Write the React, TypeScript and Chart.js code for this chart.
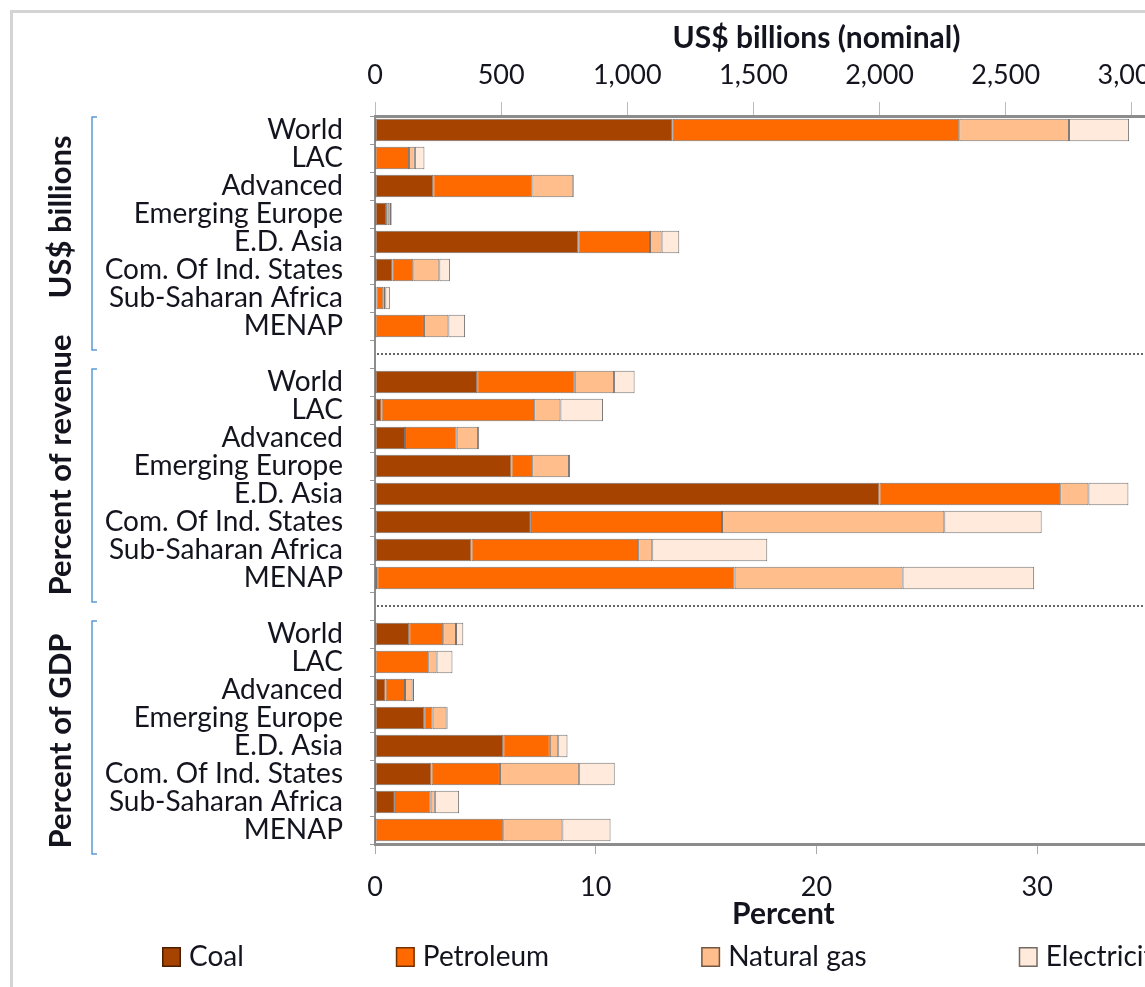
import React, { useEffect, useRef } from 'react';
import { Chart, registerables } from 'chart.js';

Chart.register(...registerables);

// ---------- data ----------
const regions = [
  'World',
  'LAC',
  'Advanced',
  'Emerging Europe',
  'E.D. Asia',
  'Com. Of Ind. States',
  'Sub-Saharan Africa',
  'MENAP',
];
const groupTitles = ['US$ billions', 'Percent of revenue', 'Percent of GDP'];
const fuelNames = ['Coal', 'Petroleum', 'Natural gas', 'Electricity'];
const fuelColors = ['#A64300', '#FF6A00', '#FFBE8C', '#FFEADB'];

// US$ billions (nominal) – top axis
const coalUSD = [1180, 0, 231, 44, 806, 70, 6, 0];
const petroleumUSD = [1136, 135, 393, 5, 284, 82, 27, 194];
const gasUSD = [435, 23, 162, 9, 46, 103, 8, 97];
const electricityUSD = [238, 38, 3, 8, 70, 42, 18, 66];

// Percent of revenue – bottom axis
const coalRevenue = [4.63, 0.3, 1.36, 6.18, 22.85, 7.06, 4.37, 0.1];
const petroleumRevenue = [4.42, 6.91, 2.34, 0.94, 8.19, 8.66, 7.55, 16.19];
const gasRevenue = [1.78, 1.19, 0.97, 1.67, 1.28, 10.07, 0.64, 7.61];
const electricityRevenue = [0.93, 1.93, 0.05, 0.05, 1.81, 4.41, 5.21, 5.96];

// Percent of GDP – bottom axis
const coalGDP = [1.55, 0, 0.48, 2.23, 5.81, 2.56, 0.9, 0];
const petroleumGDP = [1.54, 2.41, 0.88, 0.38, 2.11, 3.1, 1.62, 5.81];
const gasGDP = [0.58, 0.38, 0.34, 0.63, 0.38, 3.59, 0.19, 2.68];
const electricityGDP = [0.33, 0.72, 0.07, 0.05, 0.42, 1.61, 1.1, 2.18];

const usdAxisMax = 3500;
const usdAxisStep = 500;
const percentAxisMax = 40;
const percentAxisStep = 10;
const topAxisTitle = 'US$ billions (nominal)';
const bottomAxisTitle = 'Percent';

// ---------- helpers ----------
const FONT = 'Lato, "Open Sans", sans-serif';
const TEXT = '#14141f';

const usdSeries = [coalUSD, petroleumUSD, gasUSD, electricityUSD];
const revenueSeries = [coalRevenue, petroleumRevenue, gasRevenue, electricityRevenue];
const gdpSeries = [coalGDP, petroleumGDP, gasGDP, electricityGDP];

const n = regions.length;
const blanks = (k: number) => Array(k).fill(null);
const categoryLabels = [...regions, '', ...regions, '', ...regions];
const groupStarts = [0, n + 1, 2 * n + 2];
const groupLabelShift = [-11, -15, 9];

const decorPlugin = {
  id: 'decor',
  afterDatasetsDraw(chart: any) {
    const { ctx, chartArea, scales } = chart;
    const y = scales.y;
    ctx.save();
    ctx.strokeStyle = '#666';
    ctx.lineWidth = 2;
    ctx.setLineDash([2, 2]);
    [n, 2 * n + 1].forEach((idx) => {
      const py = Math.round(y.getPixelForValue(idx));
      ctx.beginPath();
      ctx.moveTo(chartArea.left + 2, py);
      ctx.lineTo(chartArea.right, py);
      ctx.stroke();
    });
    ctx.restore();
  },
  afterDraw(chart: any) {
    const { ctx, scales } = chart;
    const y = scales.y;
    const x = scales.x;
    ctx.save();
    // brackets + group titles
    groupStarts.forEach((start, g) => {
      const top = y.getPixelForValue(start) - 13;
      const bottom = y.getPixelForValue(start + n - 1) + 24;
      ctx.strokeStyle = '#5B9BD5';
      ctx.lineWidth = 1.5;
      ctx.setLineDash([]);
      ctx.beginPath();
      ctx.moveTo(97, top);
      ctx.lineTo(92, top);
      ctx.lineTo(92, bottom);
      ctx.lineTo(97, bottom);
      ctx.stroke();

      const cy = (y.getPixelForValue(start) + y.getPixelForValue(start + n - 1)) / 2 + groupLabelShift[g];
      ctx.save();
      ctx.translate(61, cy);
      ctx.rotate(-Math.PI / 2);
      ctx.font = `bold 31px ${FONT}`;
      ctx.fillStyle = TEXT;
      ctx.textAlign = 'center';
      ctx.textBaseline = 'middle';
      ctx.fillText(groupTitles[g], 0, 0);
      ctx.restore();
    });

    // bottom axis title
    ctx.font = `bold 30px ${FONT}`;
    ctx.fillStyle = TEXT;
    ctx.textAlign = 'center';
    ctx.textBaseline = 'middle';
    ctx.fillText(bottomAxisTitle, x.getPixelForValue(18.5), 914);

    // legend
    ctx.font = `28px ${FONT}`;
    ctx.textAlign = 'left';
    let lx = 162;
    const ly = 957;
    fuelNames.forEach((name, i) => {
      ctx.fillStyle = fuelColors[i];
      ctx.fillRect(lx, ly - 10, 19, 20);
      ctx.strokeStyle = 'rgba(0,0,0,0.55)';
      ctx.lineWidth = 1.5;
      ctx.strokeRect(lx + 0.75, ly - 9.25, 17.5, 18.5);
      ctx.fillStyle = TEXT;
      ctx.fillText(name, lx + 27, ly);
      lx += 27 + ctx.measureText(name).width + 152;
    });
    ctx.restore();
  },
};

export default function App() {
  const canvasRef = useRef<HTMLCanvasElement | null>(null);

  useEffect(() => {
    const canvas = canvasRef.current;
    if (!canvas) return;

    const barStyle = (i: number) => ({
      backgroundColor: fuelColors[i],
      borderColor: 'rgba(0,0,0,0.55)',
      borderWidth: 1,
      borderSkipped: false,
      barPercentage: 0.8,
      categoryPercentage: 1,
    });

    const datasets: any[] = [];
    fuelNames.forEach((name, i) => {
      datasets.push({
        label: name,
        data: [...blanks(n + 1), ...revenueSeries[i], null, ...gdpSeries[i]],
        xAxisID: 'x',
        yAxisID: 'y',
        ...barStyle(i),
      });
    });
    fuelNames.forEach((name, i) => {
      datasets.push({
        label: name + ' (US$)',
        data: [...usdSeries[i], ...blanks(2 * n + 2)],
        xAxisID: 'x2',
        yAxisID: 'y',
        ...barStyle(i),
      });
    });

    const chart = new Chart(canvas, {
      type: 'bar',
      data: { labels: categoryLabels, datasets },
      options: {
        indexAxis: 'y',
        responsive: false,
        animation: false,
        layout: { padding: { left: 0, right: 42, top: 0, bottom: 55 } },
        plugins: {
          legend: { display: false },
          tooltip: { enabled: false },
          title: { display: false },
        },
        scales: {
          y: {
            type: 'category',
            stacked: true,
            offset: true,
            ticks: {
              autoSkip: false,
              font: { family: FONT, size: 28 },
              color: TEXT,
              padding: 27,
            },
            grid: {
              drawOnChartArea: false,
              drawTicks: true,
              tickLength: 5,
              color: '#999',
              offset: true,
            },
            border: { color: '#8c8c8c', width: 2 },
            afterFit: (s: any) => {
              s.width = 375;
              s.paddingTop = 0;
              s.paddingBottom = 0;
            },
          },
          x: {
            position: 'bottom',
            stacked: true,
            min: 0,
            max: percentAxisMax,
            ticks: {
              stepSize: percentAxisStep,
              font: { family: FONT, size: 27 },
              color: TEXT,
              padding: 17,
              maxRotation: 0,
            },
            grid: {
              drawOnChartArea: false,
              tickLength: 10,
              color: '#aaa',
            },
            border: { color: '#8c8c8c', width: 3 },
            afterFit: (s: any) => {
              s.height = 88;
              s.paddingLeft = 0;
              s.paddingRight = 0;
            },
          },
          x2: {
            position: 'top',
            stacked: true,
            min: 0,
            max: usdAxisMax,
            ticks: {
              stepSize: usdAxisStep,
              font: { family: FONT, size: 27 },
              color: TEXT,
              padding: 11,
              maxRotation: 0,
            },
            grid: {
              drawOnChartArea: false,
              tickLength: 14,
              color: '#bbb',
            },
            border: { color: '#8c8c8c', width: 3 },
            title: {
              display: true,
              text: topAxisTitle,
              font: { family: FONT, size: 30, weight: 'bold' },
              color: TEXT,
              padding: { top: 20, bottom: 0 },
            },
            afterFit: (s: any) => {
              s.height = 116;
              s.paddingLeft = 0;
              s.paddingRight = 0;
            },
          },
        },
      } as any,
      plugins: [decorPlugin],
    });

    return () => chart.destroy();
  }, []);

  return (
    <div
      style={{
        position: 'fixed',
        left: 0,
        top: 0,
        width: 1145,
        height: 987,
        overflow: 'hidden',
        background: '#fff',
      }}
    >
      <canvas
        ref={canvasRef}
        width={1300}
        height={987}
        style={{ position: 'absolute', left: 0, top: 0, display: 'block' }}
      />
      <div
        style={{
          position: 'absolute',
          left: 10,
          top: 10,
          width: 1400,
          height: 1100,
          border: '3px solid #d4d4d4',
          pointerEvents: 'none',
        }}
      />
    </div>
  );
}
